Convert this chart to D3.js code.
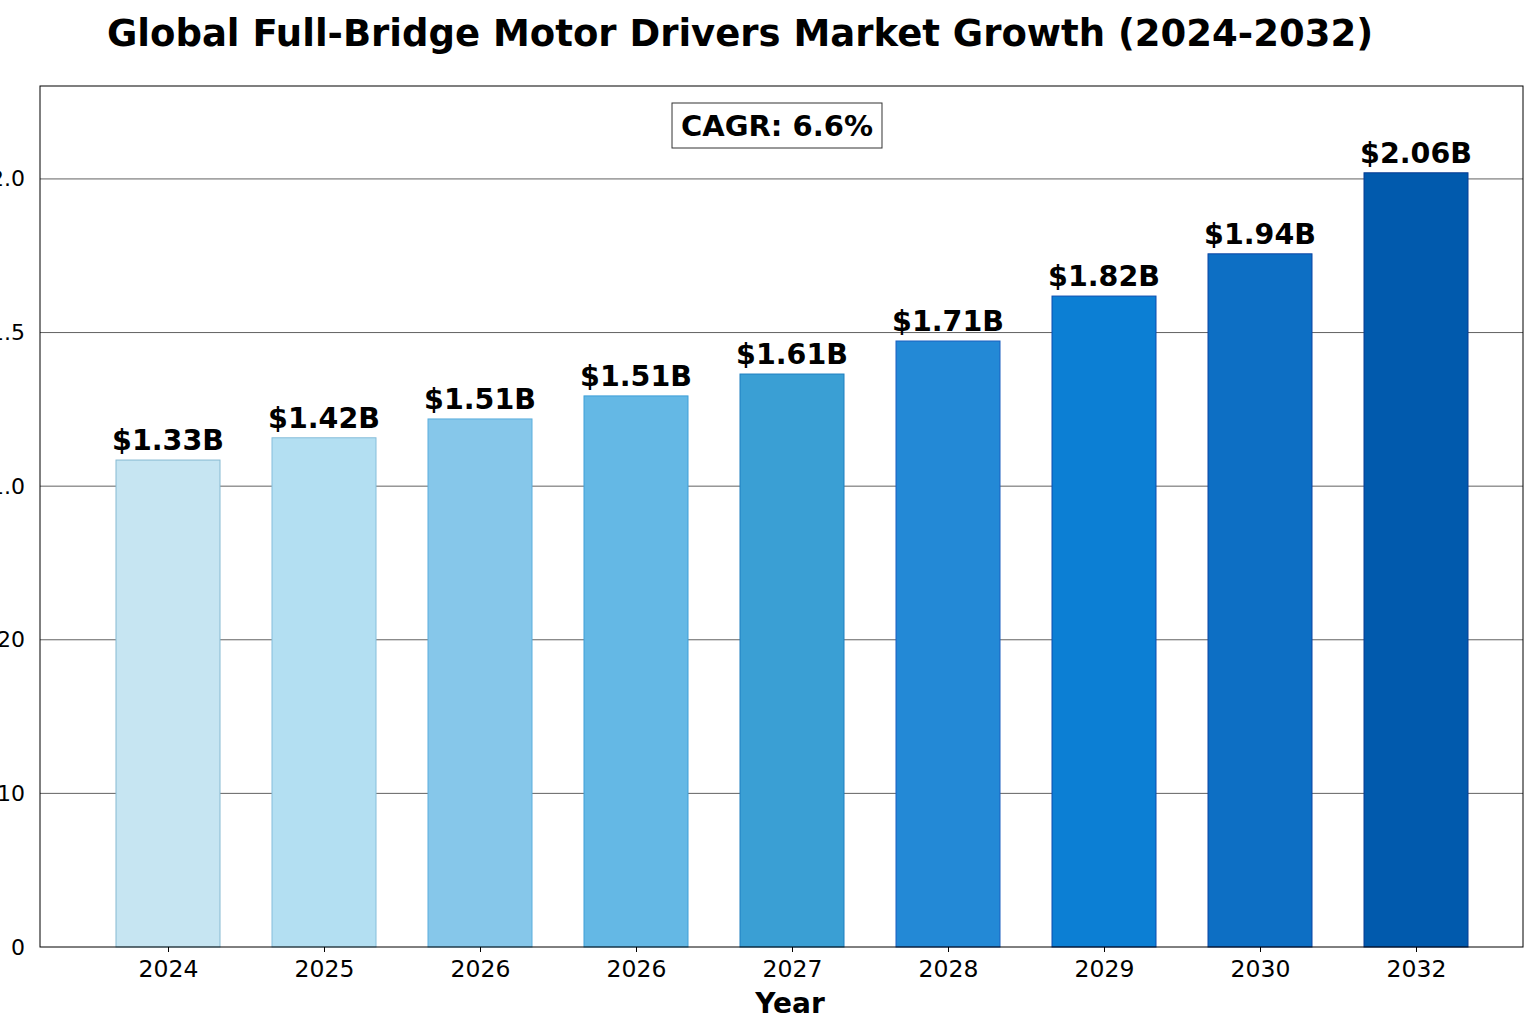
<!DOCTYPE html>
<html>
<head>
<meta charset="utf-8">
<script src="https://cdn.jsdelivr.net/npm/d3@7"></script>
<style>
  html, body { margin: 0; padding: 0; background: #fff; }
  svg { display: block; }
</style>
</head>
<body>
<svg id="chart" width="1536" height="1024"></svg>
<script>
// ---- data ----
const years = ["2024", "2025", "2026", "2026", "2027", "2028", "2029", "2030", "2032"];
const barValues = [1.268, 1.326, 1.375, 1.435, 1.492, 1.578, 1.695, 1.805, 2.016];
const barLabels = ["$1.33B", "$1.42B", "$1.51B", "$1.51B", "$1.61B", "$1.71B", "$1.82B", "$1.94B", "$2.06B"];
const yTickValues = [0, 0.4, 0.8, 1.2, 1.6, 2.0];
const yTickLabels = ["0", "10", "20", "1.0", "1.5", "2.0"];
const barFills = ["#c6e5f2", "#b3dff2", "#86c7ea", "#64b8e5", "#3a9fd4", "#2389d6", "#0c7fd4", "#0d6fc4", "#015aad"];
const barEdges = ["#86b9d2", "#86bedb", "#5aaedd", "#3f9fd8", "#1d7fc0", "#1a5fc0", "#0a4cb0", "#0a44a4", "#063c94"];
const title = "Global Full-Bridge Motor Drivers Market Growth (2024-2032)";
const cagrText = "CAGR: 6.6%";
const xTitle = "Year";

// ---- layout ----
const svg = d3.select("#chart");
const plot = { left: 40, right: 1523, top: 86, bottom: 947 };
const font = "'DejaVu Sans', sans-serif";

const idx = d3.range(years.length);
const x = d3.scalePoint().domain(idx).range([168, 1416]);
const y = d3.scaleLinear().domain([0, 2.242]).range([plot.bottom, plot.top]);
const barW = 104;

// gridlines
svg.append("g").selectAll("line").data(yTickValues.slice(1)).join("line")
  .attr("x1", plot.left).attr("x2", plot.right)
  .attr("y1", d => y(d)).attr("y2", d => y(d))
  .attr("stroke", "#3a3a3a").attr("stroke-width", 0.8);

// bars
svg.append("g").selectAll("rect").data(idx).join("rect")
  .attr("x", i => x(i) - barW / 2)
  .attr("y", i => y(barValues[i]))
  .attr("width", barW)
  .attr("height", i => y(0) - y(barValues[i]))
  .attr("fill", i => barFills[i])
  .attr("stroke", i => barEdges[i])
  .attr("stroke-width", 1);

// value labels
svg.append("g").selectAll("text").data(idx).join("text")
  .attr("x", i => x(i))
  .attr("y", i => y(barValues[i]) - 10)
  .attr("text-anchor", "middle")
  .attr("font-family", font).attr("font-weight", "bold").attr("font-size", 28.5)
  .attr("fill", "#000")
  .text(i => barLabels[i]);

// frame
svg.append("rect")
  .attr("x", plot.left).attr("y", plot.top)
  .attr("width", plot.right - plot.left).attr("height", plot.bottom - plot.top)
  .attr("fill", "none").attr("stroke", "#000").attr("stroke-width", 1);

// x axis
const xAxis = d3.axisBottom(x).tickSize(5).tickPadding(8).tickFormat(i => years[i]);
const gx = svg.append("g").attr("transform", `translate(0,${plot.bottom})`).call(xAxis);
gx.select(".domain").remove();
gx.selectAll("text").attr("font-family", font).attr("font-size", 23.5).attr("fill", "#000");
gx.selectAll("line").attr("stroke", "#000");

// y axis labels
const yAxis = d3.axisLeft(y).tickValues(yTickValues).tickSize(0).tickPadding(15)
  .tickFormat((d, i) => yTickLabels[i]);
const gy = svg.append("g").attr("transform", `translate(${plot.left},0)`).call(yAxis);
gy.select(".domain").remove();
gy.selectAll("text").attr("font-family", font).attr("font-size", 22).attr("fill", "#000");

// title
svg.append("text")
  .attr("x", 740).attr("y", 46)
  .attr("text-anchor", "middle")
  .attr("font-family", font).attr("font-weight", "bold").attr("font-size", 37)
  .text(title);

// x title
svg.append("text")
  .attr("x", 790).attr("y", 1013)
  .attr("text-anchor", "middle")
  .attr("font-family", font).attr("font-weight", "bold").attr("font-size", 28)
  .text(xTitle);

// CAGR box
const cg = svg.append("g");
const ct = cg.append("text")
  .attr("x", 777).attr("y", 136)
  .attr("text-anchor", "middle")
  .attr("font-family", font).attr("font-weight", "bold").attr("font-size", 29)
  .text(cagrText);
const bb = ct.node().getBBox();
cg.insert("rect", "text")
  .attr("x", bb.x - 9).attr("y", 103)
  .attr("width", bb.width + 18).attr("height", 45)
  .attr("fill", "#fff").attr("stroke", "#333").attr("stroke-width", 1);
</script>
</body>
</html>
